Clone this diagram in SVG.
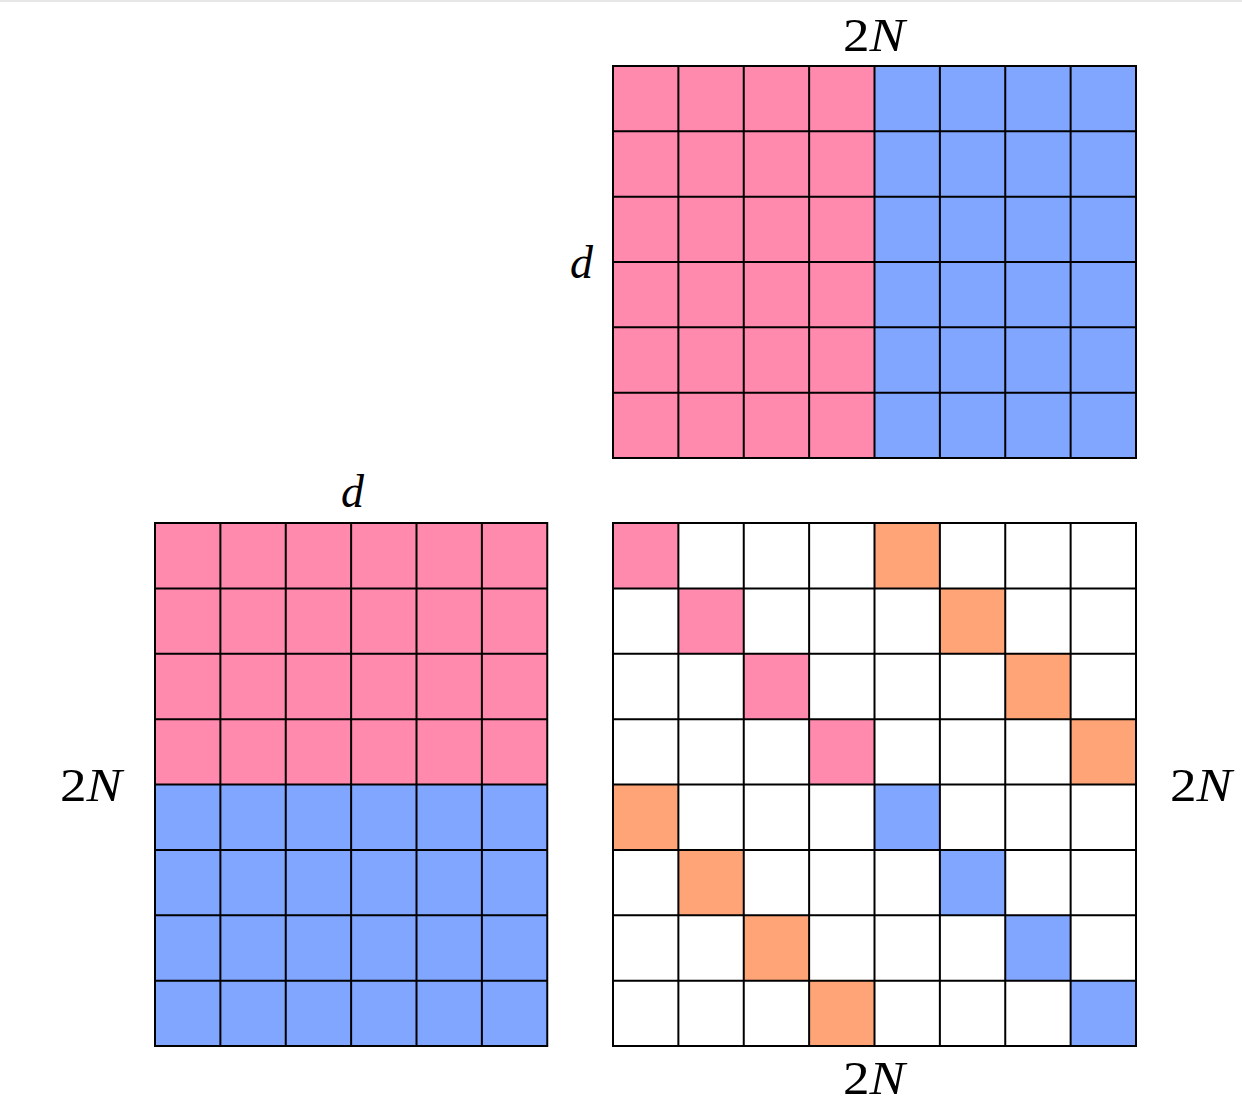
<svg xmlns="http://www.w3.org/2000/svg" width="1242" height="1106" viewBox="0 0 1242 1106">
  <style>
    .pink { fill: #FF8AAE; }
    .blue { fill: #80A6FF; }
    .orange { fill: #FFA477; }
    .grid { fill: none; stroke: #000; stroke-width: 2; stroke-linecap: square; }
    .lbl { font-family: "Liberation Serif", "DejaVu Serif", serif; font-size: 47px; fill: #000; }
    .it { font-style: italic; }
  </style>
  <rect x="0" y="0" width="1242" height="1106" fill="#fff"/>
  <rect x="0" y="0" width="1242" height="2" fill="#e6e6e6"/>

  <g id="matrix-top">
    <rect class="pink" x="613" y="66" width="261.5" height="392"/>
    <rect class="blue" x="874.5" y="66" width="261.5" height="392"/>
    <path class="grid" d="M613,66V458M678.375,66V458M743.75,66V458M809.125,66V458M874.5,66V458M939.875,66V458M1005.25,66V458M1070.625,66V458M1136,66V458
      M613,66H1136M613,131.33H1136M613,196.67H1136M613,262H1136M613,327.33H1136M613,392.67H1136M613,458H1136"/>
  </g>

  <g id="matrix-left">
    <rect class="pink" x="155" y="523" width="392.25" height="261.5"/>
    <rect class="blue" x="155" y="784.5" width="392.25" height="261.5"/>
    <path class="grid" d="M155,523V1046M220.375,523V1046M285.75,523V1046M351.125,523V1046M416.5,523V1046M481.875,523V1046M547.25,523V1046
      M155,523H547.25M155,588.375H547.25M155,653.75H547.25M155,719.125H547.25M155,784.5H547.25M155,849.875H547.25M155,915.25H547.25M155,980.625H547.25M155,1046H547.25"/>
  </g>

  <g id="matrix-result">
    <rect class="pink" x="613" y="523" width="65.375" height="65.375"/>
    <rect class="pink" x="678.375" y="588.375" width="65.375" height="65.375"/>
    <rect class="pink" x="743.75" y="653.75" width="65.375" height="65.375"/>
    <rect class="pink" x="809.125" y="719.125" width="65.375" height="65.375"/>
    <rect class="orange" x="874.5" y="523" width="65.375" height="65.375"/>
    <rect class="orange" x="939.875" y="588.375" width="65.375" height="65.375"/>
    <rect class="orange" x="1005.25" y="653.75" width="65.375" height="65.375"/>
    <rect class="orange" x="1070.625" y="719.125" width="65.375" height="65.375"/>
    <rect class="orange" x="613" y="784.5" width="65.375" height="65.375"/>
    <rect class="orange" x="678.375" y="849.875" width="65.375" height="65.375"/>
    <rect class="orange" x="743.75" y="915.25" width="65.375" height="65.375"/>
    <rect class="orange" x="809.125" y="980.625" width="65.375" height="65.375"/>
    <rect class="blue" x="874.5" y="784.5" width="65.375" height="65.375"/>
    <rect class="blue" x="939.875" y="849.875" width="65.375" height="65.375"/>
    <rect class="blue" x="1005.25" y="915.25" width="65.375" height="65.375"/>
    <rect class="blue" x="1070.625" y="980.625" width="65.375" height="65.375"/>
    <path class="grid" d="M613,523V1046M678.375,523V1046M743.75,523V1046M809.125,523V1046M874.5,523V1046M939.875,523V1046M1005.25,523V1046M1070.625,523V1046M1136,523V1046
      M613,523H1136M613,588.375H1136M613,653.75H1136M613,719.125H1136M613,784.5H1136M613,849.875H1136M613,915.25H1136M613,980.625H1136M613,1046H1136"/>
  </g>

  <g id="connectors"></g>

  <g id="labels">
    <text class="lbl" x="843" y="51" textLength="62" lengthAdjust="spacingAndGlyphs">2<tspan class="it">N</tspan></text>
    <text class="lbl it" x="570" y="278" textLength="23" lengthAdjust="spacingAndGlyphs">d</text>
    <text class="lbl it" x="341" y="507" textLength="23" lengthAdjust="spacingAndGlyphs">d</text>
    <text class="lbl" x="60" y="801" textLength="62" lengthAdjust="spacingAndGlyphs">2<tspan class="it">N</tspan></text>
    <text class="lbl" x="1170" y="801" textLength="62" lengthAdjust="spacingAndGlyphs">2<tspan class="it">N</tspan></text>
    <text class="lbl" x="843" y="1094" textLength="62" lengthAdjust="spacingAndGlyphs">2<tspan class="it">N</tspan></text>
  </g>
</svg>
